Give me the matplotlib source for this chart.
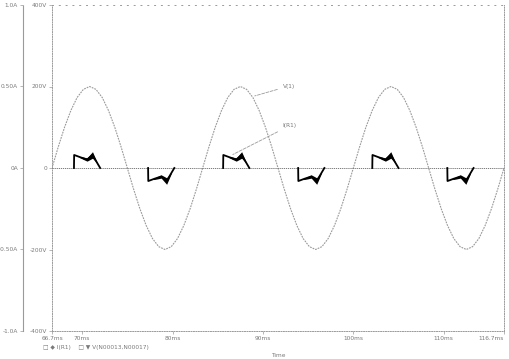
import matplotlib
matplotlib.use("Agg")
import matplotlib.pyplot as plt
import numpy as np

# x axis: three 60 Hz cycles, 66.67 ms .. 116.67 ms
t_start, t_end = 66.67, 116.67
x_ticks = [66.67, 70, 80, 90, 100, 110, 116.67]
x_labels = ["66.7ms", "70ms", "80ms", "90ms", "100ms", "110ms", "116.7ms"]

v_ticks = [-400, -200, 0, 200, 400]
v_labels = ["-400V", "-200V", "0", "200V", "400V"]
i_ticks = [-1.0, -0.5, 0, 0.5, 1.0]
i_labels = ["-1.0A", "-0.50A", "0A", "0.50A", "1.0A"]

# V(1), read every 15 degrees (0.694 ms)
v_values = [
    0, 52, 100, 141, 173, 193, 200, 193, 173, 141, 100, 52,
    0, -52, -100, -141, -173, -193, -200, -193, -173, -141, -100, -52,
    0, 52, 100, 141, 173, 193, 200, 193, 173, 141, 100, 52,
    0, -52, -100, -141, -173, -193, -200, -193, -173, -141, -100, -52,
    0, 52, 100, 141, 173, 193, 200, 193, 173, 141, 100, 52,
    0, -52, -100, -141, -173, -193, -200, -193, -173, -141, -100, -52,
    0,
]

# I(R1) pulses: start time (ms) and polarity of each
pulse_starts = [69.1, 77.3, 85.6, 93.9, 102.1, 110.4]
pulse_signs = [1, -1, 1, -1, 1, -1]
# shape of one pulse, relative to its start
pulse_t = [0.0, 0.02, 0.7, 1.45, 2.05, 2.9]
pulse_i = [0.0, 0.08, 0.066, 0.052, 0.08, 0.0]
# ringing band on top of the pulse (half width, A)
ring_t = [0.6, 1.0, 1.45, 1.8, 2.05, 2.35, 2.55]
ring_w = [0.003, 0.007, 0.010, 0.016, 0.020, 0.010, 0.003]

GRAY = "#9a9a9a"
TXT = "#7a7a7a"
FS = 4.2

fig = plt.figure(figsize=(5.09, 3.59), dpi=100)
ax = fig.add_axes([52 / 509, 1 - 331 / 359, 452 / 509, 326 / 359])
ax2 = ax.twinx()

# voltage
v_time = np.linspace(t_start, t_end, len(v_values))
ax.plot(v_time, v_values, color=GRAY, lw=0.8, ls=(0, (1.6, 0.9)))

# current baseline + pulses
ax2.plot([t_start, t_end], [0, 0], color="#666666", lw=0.6, ls=(0, (1.5, 1.0)))
for start, sign in zip(pulse_starts, pulse_signs):
    tt = start + np.array(pulse_t)
    ii = sign * np.array(pulse_i)
    ax2.plot(tt, ii, color="black", lw=1.3, solid_joinstyle="round")
    rt = start + np.array(ring_t)
    center = np.interp(rt, tt, ii)
    ax2.fill_between(rt, center - np.array(ring_w), center + np.array(ring_w),
                     color="black", lw=0)

ax.set_xlim(t_start, t_end)
ax.set_ylim(-400, 400)
ax2.set_ylim(-1.0, 1.0)

ax.set_xticks(x_ticks)
ax.set_xticklabels(x_labels)
ax.set_yticks(v_ticks)
ax.set_yticklabels(v_labels)
ax2.set_yticks(i_ticks)
ax2.set_yticklabels(i_labels)
ax.get_xticklabels()[-1].set_ha("right")
ax.get_xticklabels()[0].set_ha("center")

# current axis sits on the far left
ax2.yaxis.tick_left()
ax2.spines["left"].set_position(("outward", 21))
ax2.spines["left"].set_visible(True)
for name in ["right", "top", "bottom"]:
    ax2.spines[name].set_visible(False)

for sp in ax.spines.values():
    sp.set_color(GRAY)
    sp.set_linewidth(0.7)
    sp.set_linestyle((0, (1, 1.5)))
ax.spines["top"].set_linestyle((0, (1, 6)))
ax2.spines["left"].set_color(GRAY)
ax2.spines["left"].set_linewidth(0.8)
ax2.spines["left"].set_linestyle((0, (1, 1)))

ax.tick_params(axis="both", length=2, width=0.5, color=GRAY, labelsize=FS,
               labelcolor=TXT, pad=1.5)
ax2.tick_params(axis="y", length=2, width=0.5, color=GRAY, labelsize=FS,
                labelcolor=TXT, pad=1.5)

ax.set_xlabel("Time", fontsize=FS, color=TXT, labelpad=9)

# trace labels with dashed leaders
ax.annotate("V(1)", xy=(88.8, 175), xytext=(92.2, 201), fontsize=FS, color=TXT,
            va="center", ha="left",
            arrowprops=dict(arrowstyle="-", ls="--", color=GRAY, lw=0.6))
ax2.annotate("I(R1)", xy=(86.4, 0.075), xytext=(92.2, 0.26), fontsize=FS,
             color=TXT, va="center", ha="left",
             arrowprops=dict(arrowstyle="-", ls="--", color=GRAY, lw=0.6))

# legend under the axis
fig.text(43 / 509, 1 - 347 / 359, "\u25a1 \u25c6 I(R1)    \u25a1 \u25bc V(N00013,N00017)",
         fontsize=FS, color=TXT, va="center", ha="left")

fig.savefig("out.png", dpi=100)
